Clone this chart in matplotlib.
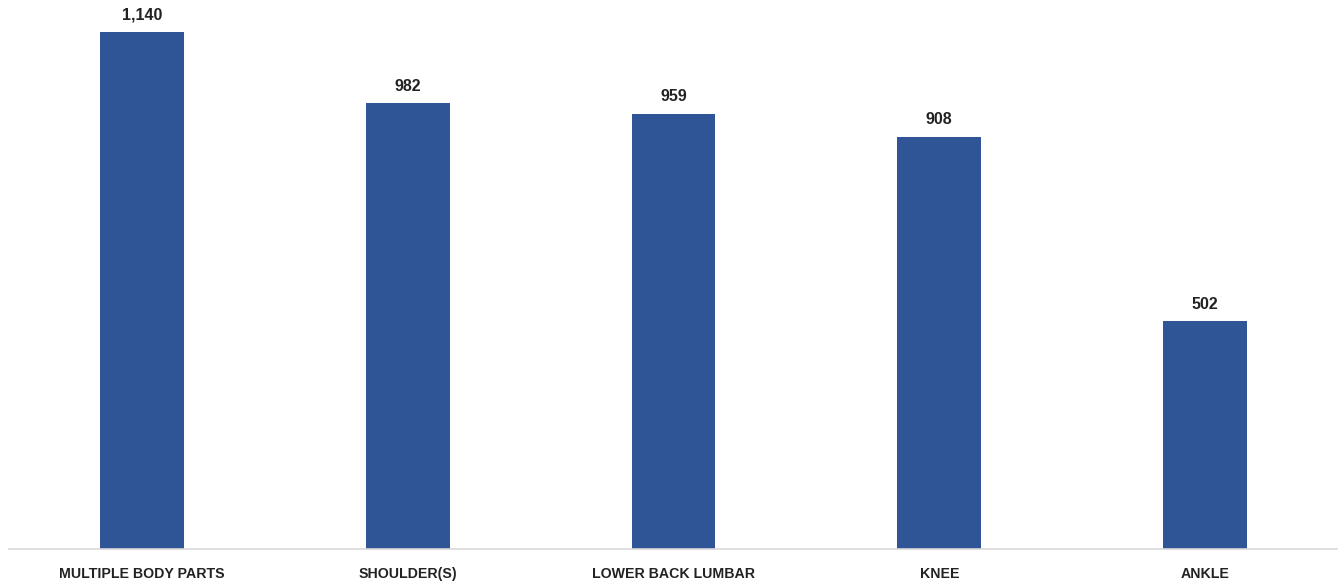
import matplotlib.pyplot as plt

# Body parts and counts
categories = ['MULTIPLE BODY PARTS', 'SHOULDER(S)', 'LOWER BACK LUMBAR', 'KNEE', 'ANKLE']
counts = [1140, 982, 959, 908, 502]

plt.rcParams['font.family'] = ['Liberation Sans Narrow', 'Liberation Sans', 'DejaVu Sans']

fig = plt.figure(figsize=(13.38, 5.81), dpi=100)
ax = fig.add_axes([9 / 1338, 32 / 581, 1 - 9 / 1338, 1 - 32 / 581])

x = range(len(categories))
bars = ax.bar(x, counts, width=0.315, color='#2F5597', zorder=2)

for b, v in zip(bars, counts):
    ax.annotate(f'{v:,}', (b.get_x() + b.get_width() / 2, v), xytext=(0, 7),
                textcoords='offset points', ha='center', va='bottom',
                fontsize=11.5, fontweight='bold', color='#222222')

ax.set_xlim(-0.5, len(categories) - 0.5)
ax.set_ylim(0, 1210)
ax.set_xticks(list(x))
ax.set_xticklabels(categories, fontsize=10.2, fontweight='bold', color='#222222')
ax.tick_params(axis='x', length=0, pad=13)
ax.set_yticks([])

for s in ['top', 'right', 'left']:
    ax.spines[s].set_visible(False)
ax.spines['bottom'].set_color('#D9D9D9')
ax.spines['bottom'].set_linewidth(1.2)

fig.savefig('out.png', dpi=100)
